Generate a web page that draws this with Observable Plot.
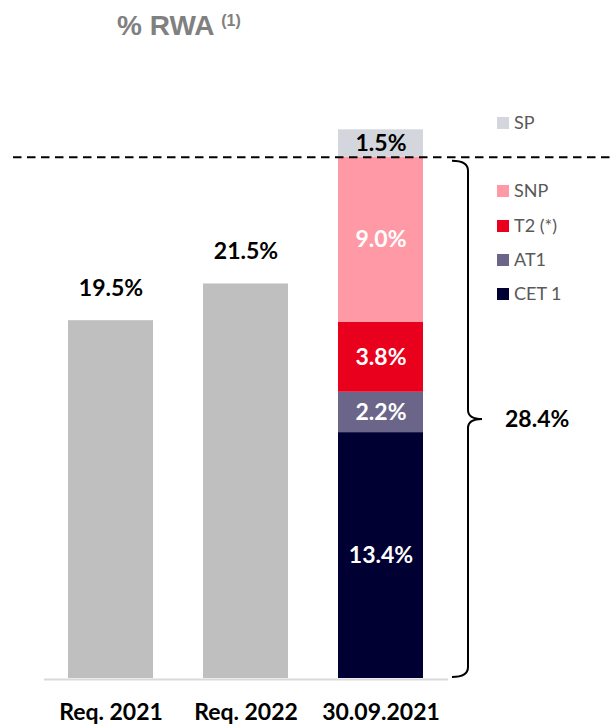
<!DOCTYPE html>
<html><head><meta charset="utf-8">
<script src="https://cdn.jsdelivr.net/npm/d3@7"></script>
<script src="https://cdn.jsdelivr.net/npm/@observablehq/plot@0.6"></script>
<style>
body{margin:0;background:#fff;width:615px;height:726px;overflow:hidden}
#title{box-sizing:border-box;height:50px;padding:11px 0 0 117px;font:bold 28px "Liberation Sans",Arial,sans-serif;line-height:30px;color:#808080;white-space:nowrap}
#title .sup{font-size:16px;position:relative;top:-9px}
#chart svg{display:block}
</style></head><body>
<div id="title">% RWA <span class="sup">(1)</span></div>
<div id="chart"></div>
<script>
// ---- data ----
const categories = ["Req. 2021", "Req. 2022", "30.09.2021"];
const reqCategories = ["Req. 2021", "Req. 2022"];
const reqValues = [19.5, 21.5];
const stackCategory = "30.09.2021";
const components = ["CET 1", "AT1", "T2 (*)", "SNP", "SP"];
const componentValues = [13.4, 2.2, 3.8, 9.0, 1.5];
const componentColors = ["#000033", "#6b6689", "#e8001c", "#ff99a6", "#d3d6dc"];
const legendOrder = ["SP", "SNP", "T2 (*)", "AT1", "CET 1"];
const bracketTotal = 28.4;

// ---- derived tables ----
const reqRows = reqCategories.map((c, i) => ({category: c, value: reqValues[i]}));
let acc = 0;
const stackRows = components.map((k, i) => {
  const y1 = acc; acc += componentValues[i];
  return {category: stackCategory, component: k, value: componentValues[i], y1, y2: acc, mid: (y1 + acc) / 2};
});
const fmt = v => v.toFixed(1) + "%";

const W = 615, H = 676;
const plot = Plot.plot({
  width: W, height: H,
  marginLeft: 18.5, marginRight: 141.5, marginTop: 77.5, marginBottom: 48,
  style: {fontFamily: "Lato, sans-serif", background: "white", overflow: "visible"},
  x: {domain: categories, padding: 0.37, axis: null},
  y: {domain: [0, 30], axis: null},
  color: {domain: components, range: componentColors},
  marks: [
    Plot.barY(reqRows, {x: "category", y: "value", fill: "#bfbfbf"}),
    Plot.barY(stackRows, {x: "category", y1: "y1", y2: "y2", fill: "component"}),
    Plot.ruleY([0], {stroke: "#d9d9d9", strokeWidth: 2, dy: 1, insetLeft: 25.5, insetRight: 25.5}),
    Plot.ruleY([bracketTotal], {stroke: "black", strokeWidth: 2, strokeDasharray: "8.5,5.5", insetLeft: -5.5, insetRight: -141.5}),
    Plot.text(reqRows, {x: "category", y: "value", text: d => fmt(d.value), dy: -32, fontSize: 23, fontWeight: "bold", fill: "black"}),
    Plot.text(stackRows.filter(d => d.component !== "SP"), {x: "category", y: "mid", text: d => fmt(d.value), fontSize: 23, fontWeight: "bold", fill: "white"}),
    Plot.text(stackRows.filter(d => d.component === "SP"), {x: "category", y: "mid", text: d => fmt(d.value), fontSize: 23, fontWeight: "bold", fill: "black"}),
    Plot.text(categories, {x: d => d, y: 0, dy: 34, text: d => d, fontSize: 23, fontWeight: "bold", fill: "black"})
  ]
});
document.getElementById("chart").appendChild(plot);

// ---- brace and total label, placed through the plot's scales ----
const sx = plot.scale("x"), sy = plot.scale("y");
const xr = sx.apply(stackCategory) + sx.bandwidth;
const yTop = sy.apply(bracketTotal) + 4, yBot = sy.apply(0) - 1, yMid = (yTop + yBot) / 2;
const xl = xr + 29, xv = xr + 45, xp = xr + 59;
const svg = d3.select(plot);
svg.append("path")
  .attr("d", `M${xl},${yTop} Q${xv},${yTop} ${xv},${yTop + 10} V${yMid - 9} Q${xv},${yMid} ${xp},${yMid} Q${xv},${yMid} ${xv},${yMid + 9} V${yBot - 10} Q${xv},${yBot} ${xl},${yBot}`)
  .attr("fill", "none").attr("stroke", "black").attr("stroke-width", 2);
svg.append("text")
  .attr("x", xr + 82).attr("y", yMid).attr("dy", "0.35em").attr("text-anchor", "start")
  .attr("font-family", "Lato, sans-serif").attr("font-size", 23).attr("font-weight", "bold")
  .attr("fill", "black").text(fmt(bracketTotal));

// ---- legend ----
const colorOf = d3.scaleOrdinal(components, componentColors);
const legendY = {"SP": 73, "SNP": 141, "T2 (*)": 176, "AT1": 210, "CET 1": 244};
const lg = svg.append("g").attr("font-family", "Lato, sans-serif").attr("font-size", 18).attr("text-anchor", "start");
legendOrder.forEach(k => {
  const cy = legendY[k];
  lg.append("rect").attr("x", 497).attr("y", cy - 6).attr("width", 12).attr("height", 12).attr("fill", colorOf(k));
  lg.append("text").attr("x", 514).attr("y", cy).attr("dy", "0.35em").attr("fill", "#595959").text(k);
});
</script>
</body></html>
